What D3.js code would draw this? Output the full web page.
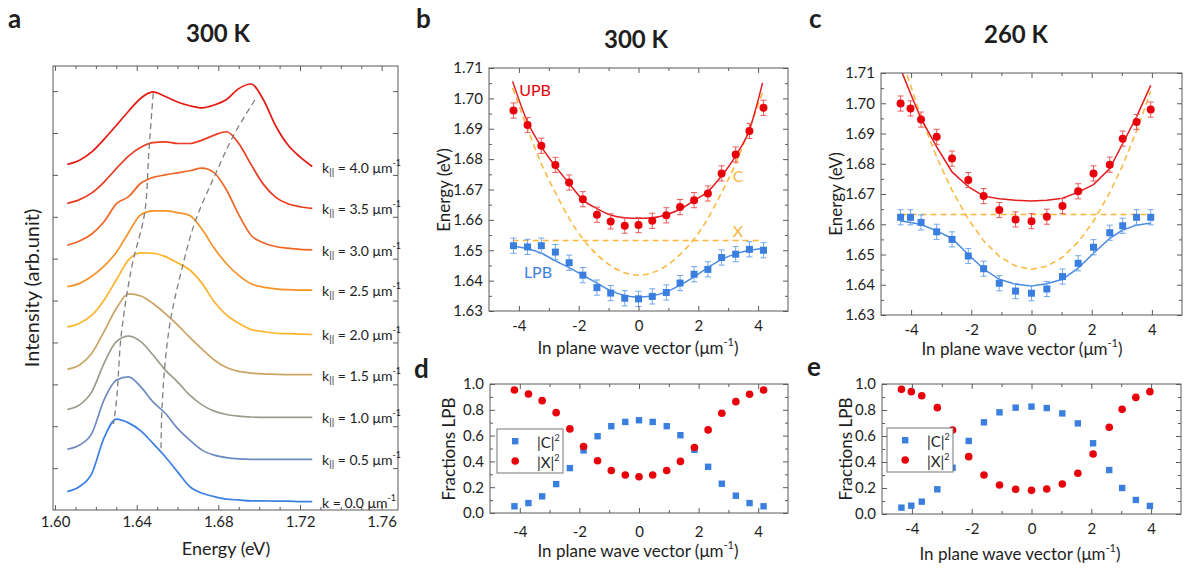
<!DOCTYPE html>
<html lang="en">
<head>
<meta charset="UTF-8">
<title>Polariton dispersion 300 K / 260 K</title>
<script src="https://cdn.jsdelivr.net/npm/d3@7"></script>
<style>
  body { margin: 0; background: #fff; }
  svg { display: block; }
  text { font-family: Lato, "Open Sans", sans-serif; fill: #1e1e1e; }
  .tick-label { font-size: 15px; }
  .axis-title { font-size: 17px; }
  .letter { font-size: 26px; font-weight: bold; }
  .title { font-size: 24px; font-weight: bold; }
  .klabel { font-size: 14px; }
</style>
</head>
<body>
<svg id="fig" width="1188" height="570"></svg>
<script>
// ---------- panel a : stacked PL spectra, 300 K ----------
const energyGrid = [1.606, 1.612, 1.618, 1.624, 1.630, 1.636, 1.642, 1.648, 1.654, 1.660, 1.666,
                    1.672, 1.678, 1.684, 1.690, 1.696, 1.702, 1.708, 1.714, 1.720, 1.726];
const spec40 = [8.25, 8.35, 8.55, 8.85, 9.18, 9.52, 9.83, 9.98, 9.87, 9.74, 9.65, 9.60, 9.67, 9.80, 10.06, 10.17, 9.80, 9.18, 8.72, 8.43, 8.20];
const spec35 = [7.32, 7.41, 7.57, 7.83, 8.15, 8.45, 8.66, 8.77, 8.79, 8.75, 8.75, 8.83, 8.95, 9.03, 8.75, 8.25, 7.78, 7.47, 7.31, 7.24, 7.20];
const spec30 = [6.32, 6.42, 6.59, 6.88, 7.31, 7.48, 7.80, 7.94, 8.00, 8.05, 8.10, 8.16, 8.05, 7.64, 7.05, 6.56, 6.38, 6.29, 6.25, 6.22, 6.21];
const spec25 = [5.33, 5.41, 5.58, 5.82, 6.15, 6.62, 7.05, 7.14, 7.14, 7.10, 7.03, 6.70, 6.25, 5.88, 5.60, 5.40, 5.32, 5.28, 5.26, 5.25, 5.25];
const spec20 = [4.37, 4.46, 4.65, 5.01, 5.49, 5.97, 6.14, 6.13, 6.05, 5.90, 5.73, 5.41, 4.97, 4.65, 4.46, 4.31, 4.26, 4.22, 4.21, 4.20, 4.19];
const spec15 = [3.36, 3.46, 3.74, 4.26, 4.81, 5.16, 5.11, 4.93, 4.69, 4.42, 4.12, 3.84, 3.58, 3.40, 3.31, 3.27, 3.25, 3.24, 3.23, 3.23, 3.23];
const spec10 = [2.40, 2.51, 2.82, 3.50, 4.02, 4.15, 4.02, 3.70, 3.34, 3.06, 2.74, 2.51, 2.36, 2.28, 2.24, 2.22, 2.21, 2.21, 2.21, 2.21, 2.21];
const spec05 = [1.45, 1.55, 1.83, 2.63, 3.10, 3.18, 2.94, 2.58, 2.31, 1.95, 1.67, 1.43, 1.31, 1.25, 1.22, 1.21, 1.21, 1.21, 1.21, 1.21, 1.21];
const spec00 = [0.44, 0.56, 0.87, 1.72, 2.17, 2.08, 1.89, 1.59, 1.27, 0.91, 0.56, 0.40, 0.32, 0.26, 0.24, 0.22, 0.22, 0.21, 0.21, 0.20, 0.20];
const kValuesA = ["4.0", "3.5", "3.0", "2.5", "2.0", "1.5", "1.0", "0.5", "0.0"];
// dashed guides through the two peak positions [energy, intensity]
const lowPeakPath = [[1.6481, 9.95], [1.6460, 8.59], [1.6441, 7.16], [1.6376, 5.81], [1.6327, 4.30], [1.6294, 2.32], [1.6286, 2.05]];
const highPeakPath = [[1.6979, 9.79], [1.6881, 9.00], [1.6784, 8.00], [1.6686, 6.88], [1.6620, 5.73], [1.6563, 4.46], [1.6539, 3.50], [1.6523, 2.31], [1.6519, 1.39]];

// ---------- panel b : dispersion 300 K ----------
const kB = [-4.18, -3.71, -3.25, -2.78, -2.32, -1.86, -1.39, -0.93, -0.46, 0, 0.46, 0.93, 1.39, 1.86, 2.32, 2.78, 3.25, 3.71, 4.18];
const upbB = [1.6960, 1.6912, 1.6844, 1.6781, 1.6723, 1.6668, 1.6617, 1.6595, 1.6581, 1.6583, 1.6597, 1.6615, 1.6642, 1.6665, 1.6687, 1.6753, 1.6815, 1.6893, 1.6969];
const lpbB = [1.6515, 1.6511, 1.6515, 1.6494, 1.6459, 1.6418, 1.6377, 1.6359, 1.6342, 1.6340, 1.6348, 1.6361, 1.6392, 1.6421, 1.6437, 1.6476, 1.6487, 1.6503, 1.6500];
const kFitB = [-4.21, -3.71, -3.25, -2.78, -2.32, -1.86, -1.39, -0.93, -0.46, 0, 0.46, 0.93, 1.39, 1.86, 2.32, 2.78, 3.25, 3.71, 4.15];
const upbFitB = [1.7056, 1.6922, 1.6841, 1.6776, 1.6720, 1.6666, 1.6637, 1.6616, 1.6607, 1.6605, 1.6607, 1.6617, 1.6635, 1.6664, 1.6693, 1.6745, 1.6811, 1.6897, 1.7051];
const lpbFitB = [1.6513, 1.6505, 1.6490, 1.6465, 1.6443, 1.6418, 1.6392, 1.6367, 1.6351, 1.6346, 1.6350, 1.6363, 1.6385, 1.6412, 1.6443, 1.6470, 1.6488, 1.6500, 1.6506];
const cavFitB = [1.7034, 1.6900, 1.6785, 1.6690, 1.6605, 1.6537, 1.6486, 1.6449, 1.6426, 1.6418, 1.6426, 1.6449, 1.6486, 1.6537, 1.6605, 1.6690, 1.6785, 1.6900, 1.7020];
const excitonB = 1.6532;
const errB = 0.0025;

// ---------- panel c : dispersion 260 K ----------
const kC = [-4.35, -4.02, -3.67, -3.15, -2.64, -2.10, -1.59, -1.07, -0.53, 0, 0.51, 1.03, 1.55, 2.06, 2.60, 3.03, 3.49, 3.96];
const upbC = [1.6999, 1.6983, 1.6946, 1.6889, 1.6817, 1.6746, 1.6693, 1.6647, 1.6616, 1.6610, 1.6625, 1.6660, 1.6709, 1.6768, 1.6797, 1.6883, 1.6938, 1.6979];
const lpbC = [1.6623, 1.6623, 1.6606, 1.6575, 1.6550, 1.6495, 1.6453, 1.6405, 1.6379, 1.6372, 1.6386, 1.6427, 1.6471, 1.6524, 1.6572, 1.6595, 1.6623, 1.6623];
const upbFitC = [1.7114, 1.7032, 1.6949, 1.6856, 1.6773, 1.6724, 1.6693, 1.6684, 1.6679, 1.6677, 1.6679, 1.6686, 1.6706, 1.6731, 1.6784, 1.6867, 1.6955, 1.7059];
const lpbFitC = [1.6611, 1.6606, 1.6599, 1.6578, 1.6553, 1.6500, 1.6452, 1.6418, 1.6402, 1.6396, 1.6403, 1.6418, 1.6455, 1.6504, 1.6553, 1.6581, 1.6597, 1.6604];
const cavFitC = [1.7155, 1.7060, 1.6955, 1.6822, 1.6712, 1.6617, 1.6545, 1.6494, 1.6462, 1.6451, 1.6461, 1.6491, 1.6541, 1.6610, 1.6705, 1.6795, 1.6908, 1.7040];
const excitonC = 1.6632;
const errC = 0.0025;

// ---------- panels d, e : Hopfield fractions of LPB ----------
const photonD = [0.052, 0.077, 0.129, 0.224, 0.348, 0.485, 0.595, 0.673, 0.706, 0.719, 0.706, 0.673, 0.603, 0.490, 0.358, 0.227, 0.134, 0.077, 0.052];
const excitonD = [0.954, 0.923, 0.871, 0.778, 0.652, 0.515, 0.405, 0.330, 0.294, 0.281, 0.294, 0.330, 0.400, 0.508, 0.644, 0.773, 0.863, 0.920, 0.954];
const photonE = [0.049, 0.064, 0.095, 0.190, 0.356, 0.562, 0.705, 0.782, 0.818, 0.826, 0.815, 0.774, 0.697, 0.544, 0.338, 0.200, 0.108, 0.062];
const excitonE = [0.959, 0.941, 0.910, 0.818, 0.646, 0.441, 0.300, 0.223, 0.190, 0.182, 0.192, 0.231, 0.313, 0.462, 0.667, 0.805, 0.897, 0.941];

const AX = "#5b5b5b";
const RED = "#e8000b", BLUE = "#3a7fdf", ORANGE = "#fdb53a";
const RED_ERR = "#ee5a5a", BLUE_ERR = "#70a6ec";
const specColors = ["#e41a12", "#ea3d1f", "#f06624", "#f69228", "#fbb42c", "#c9a464", "#9d9b8b", "#6d8bbe", "#3b7fe3"];

const fig = d3.select("#fig");

// box with inward ticks on all four sides
function frame(g, x, y, o) {
  const [xl, xr] = x.range(), [yb, yt] = y.range();
  const add = (axis, tr, vals, len, fmt, pad) => {
    const a = g.append("g").attr("transform", tr)
      .call(axis.tickValues(vals).tickSize(-len).tickPadding(pad || 0).tickFormat(fmt || (() => "")));
    a.select(".domain").remove();
    a.selectAll("line").attr("stroke", AX);
    a.selectAll("text").attr("class", "tick-label");
  };
  add(d3.axisBottom(x), `translate(0,${yb})`, o.xMajor, 5, o.xFmt, o.xPad);
  add(d3.axisBottom(x), `translate(0,${yb})`, o.xMinor, 3);
  add(d3.axisTop(x), `translate(0,${yt})`, o.xMajor, 5);
  add(d3.axisTop(x), `translate(0,${yt})`, o.xMinor, 3);
  add(d3.axisLeft(y), `translate(${xl},0)`, o.yMajor, 5, o.yFmt, 6);
  add(d3.axisLeft(y), `translate(${xl},0)`, o.yMinor, 3);
  add(d3.axisRight(y), `translate(${xr},0)`, o.yMajor, 5);
  add(d3.axisRight(y), `translate(${xr},0)`, o.yMinor, 3);
  g.append("rect").attr("x", xl).attr("y", yt).attr("width", xr - xl).attr("height", yb - yt)
    .attr("fill", "none").attr("stroke", AX).attr("stroke-width", 1);
}

function kTitle(g, cx, cy) {
  const t = g.append("text").attr("class", "axis-title").attr("x", cx).attr("y", cy)
    .attr("text-anchor", "middle").attr("dominant-baseline", "central");
  t.append("tspan").text("In plane wave vector (\u03bcm");
  t.append("tspan").attr("dy", -6).style("font-size", "11px").text("-1");
  t.append("tspan").attr("dy", 6).text(")");
}

function yTitle(g, cx, cy, label, size) {
  const t = g.append("text").attr("class", "axis-title").attr("transform", `translate(${cx},${cy}) rotate(-90)`)
    .attr("text-anchor", "middle").attr("dominant-baseline", "central").text(label);
  if (size) t.style("font-size", size + "px");
}

function letter(t, x, y) { fig.append("text").attr("class", "letter").attr("x", x).attr("y", y).text(t); }
function title(t, x, y) { fig.append("text").attr("class", "title").attr("x", x).attr("y", y).attr("text-anchor", "middle").text(t); }

const kFmt = d => String(d);
const kMajor = [-4, -2, 0, 2, 4], kMinor = [-3, -1, 1, 3];

// ================= panel a =================
{
  const g = fig.append("g");
  const x = d3.scaleLinear().domain([1.599, 1.768]).range([53, 398]);
  const y = d3.scaleLinear().domain([0, 10.6]).range([510, 66]);
  frame(g, x, y, {
    xMajor: [1.60, 1.64, 1.68, 1.72, 1.76],
    xMinor: [1.61, 1.62, 1.63, 1.65, 1.66, 1.67, 1.69, 1.70, 1.71, 1.73, 1.74, 1.75],
    xFmt: d3.format(".2f"), xPad: 6,
    yMajor: d3.range(1, 11), yMinor: [], yFmt: () => ""
  });
  const spectra = [spec40, spec35, spec30, spec25, spec20, spec15, spec10, spec05, spec00];
  const line = d3.line().x((d, i) => x(energyGrid[i])).y(d => y(d)).curve(d3.curveMonotoneX);
  g.selectAll(".spec").data(spectra).join("path").attr("class", "spec")
    .attr("d", line).attr("fill", "none")
    .attr("stroke", (d, i) => specColors[i]).attr("stroke-width", 1.7);

  const guide = d3.line().x(d => x(d[0])).y(d => y(d[1])).curve(d3.curveMonotoneY);
  [lowPeakPath, highPeakPath].forEach(p => {
    g.append("path").attr("d", guide(p)).attr("fill", "none")
      .attr("stroke", "#7f7f7f").attr("stroke-width", 1.3).attr("stroke-dasharray", "6,4");
  });

  spectra.forEach((s, i) => {
    const t = g.append("text").attr("class", "klabel").attr("x", 322).attr("y", y(s[s.length - 1]))
      .attr("dominant-baseline", "central");
    t.append("tspan").text("k");
    if (i < spectra.length - 1) t.append("tspan").attr("dy", 4).style("font-size", "10px").text("||");
    t.append("tspan").attr("dy", i < spectra.length - 1 ? -4 : 0).text(` = ${kValuesA[i]} \u03bcm`);
    t.append("tspan").attr("dy", -5).style("font-size", "9px").text("-1");
  });

  g.append("text").attr("class", "axis-title").attr("x", 226).attr("y", 548)
    .attr("text-anchor", "middle").attr("dominant-baseline", "central").style("font-size", "18px").text("Energy (eV)");
  yTitle(g, 31, 288, "Intensity (arb.unit)", 20);
  letter("a", 8, 28);
  title("300 K", 218, 42);
}

// dispersion panel (b, c)
function dispersion(o) {
  const g = fig.append("g");
  const x = d3.scaleLinear().domain([-5, 5]).range(o.xr);
  const y = d3.scaleLinear().domain([1.63, 1.71]).range(o.yr);
  const clipId = "clip" + o.id;
  g.append("clipPath").attr("id", clipId).append("rect")
    .attr("x", o.xr[0]).attr("y", o.yr[1]).attr("width", o.xr[1] - o.xr[0]).attr("height", o.yr[0] - o.yr[1]);
  const plot = g.append("g").attr("clip-path", `url(#${clipId})`);

  const line = d3.line().x(d => x(d[0])).y(d => y(d[1])).curve(o.curve);
  const pairs = (ks, vs) => ks.map((k, i) => [k, vs[i]]);
  // exciton level and bare cavity (dashed)
  plot.append("path").attr("d", line([[o.kFit[0], o.exc], [o.kFit[o.kFit.length - 1], o.exc]]))
    .attr("fill", "none").attr("stroke", ORANGE).attr("stroke-width", 1.5).attr("stroke-dasharray", "6,4");
  plot.append("path").attr("d", line(pairs(o.kFit, o.cav)))
    .attr("fill", "none").attr("stroke", ORANGE).attr("stroke-width", 1.5).attr("stroke-dasharray", "6,4");
  plot.append("path").attr("d", line(pairs(o.kFit, o.upFit)))
    .attr("fill", "none").attr("stroke", "#e41a1c").attr("stroke-width", 1.5);
  plot.append("path").attr("d", line(pairs(o.kFit, o.lpFit)))
    .attr("fill", "none").attr("stroke", "#4a8be2").attr("stroke-width", 1.5);

  const bars = (vals, col) => {
    const eb = plot.append("g").attr("stroke", col).attr("stroke-width", 1);
    o.k.forEach((k, i) => {
      const cx = x(k), y1 = y(vals[i] - o.err), y2 = y(vals[i] + o.err);
      eb.append("line").attr("x1", cx).attr("x2", cx).attr("y1", y1).attr("y2", y2);
      eb.append("line").attr("x1", cx - 3).attr("x2", cx + 3).attr("y1", y1).attr("y2", y1);
      eb.append("line").attr("x1", cx - 3).attr("x2", cx + 3).attr("y1", y2).attr("y2", y2);
    });
  };
  bars(o.up, RED_ERR);
  bars(o.lp, BLUE_ERR);
  plot.selectAll(".up").data(pairs(o.k, o.up)).join("circle").attr("class", "up")
    .attr("cx", d => x(d[0])).attr("cy", d => y(d[1])).attr("r", 4).attr("fill", RED);
  plot.selectAll(".lp").data(pairs(o.k, o.lp)).join("rect").attr("class", "lp")
    .attr("x", d => x(d[0]) - 3.5).attr("y", d => y(d[1]) - 3.5).attr("width", 7).attr("height", 7).attr("fill", BLUE);

  frame(g, x, y, {
    xMajor: kMajor, xMinor: kMinor, xFmt: kFmt, xPad: 9,
    yMajor: d3.range(1.63, 1.7101, 0.01), yMinor: d3.range(1.635, 1.71, 0.01), yFmt: d3.format(".2f")
  });
  return { g, x, y };
}

// ================= panel b =================
{
  const { g } = dispersion({
    id: "b", xr: [489, 788], yr: [311, 68], curve: d3.curveMonotoneX,
    k: kB, up: upbB, lp: lpbB, err: errB,
    kFit: kFitB, upFit: upbFitB, lpFit: lpbFitB, cav: cavFitB, exc: excitonB
  });
  const lab = (t, x, y, c) => g.append("text").attr("x", x).attr("y", y).attr("text-anchor", "middle")
    .attr("dominant-baseline", "central").style("font-size", "16px").style("fill", c).text(t);
  lab("UPB", 535, 89, RED);
  lab("LPB", 538, 271, BLUE);
  lab("C", 738, 175, ORANGE);
  lab("X", 738, 230, ORANGE);
  kTitle(g, 638, 347);
  yTitle(g, 443, 190, "Energy (eV)");
  letter("b", 416, 28);
  title("300 K", 636, 48);
}

// ================= panel c =================
{
  const { g } = dispersion({
    id: "c", xr: [881, 1182], yr: [315, 73], curve: d3.curveLinear,
    k: kC, up: upbC, lp: lpbC, err: errC,
    kFit: kC, upFit: upbFitC, lpFit: lpbFitC, cav: cavFitC, exc: excitonC
  });
  kTitle(g, 1022, 348);
  yTitle(g, 835, 194, "Energy (eV)");
  letter("c", 809, 28);
  title("260 K", 1016, 43);
}

// fraction panel (d, e)
function fractions(o) {
  const g = fig.append("g");
  const x = d3.scaleLinear().domain([-5, 5]).range(o.xr);
  const y = d3.scaleLinear().domain([0, 1]).range(o.yr);
  g.selectAll(".ph").data(o.k).join("rect").attr("class", "ph")
    .attr("x", d => x(d) - 3.2).attr("y", (d, i) => y(o.ph[i]) - 3.2).attr("width", 6.4).attr("height", 6.4).attr("fill", BLUE);
  g.selectAll(".ex").data(o.k).join("circle").attr("class", "ex")
    .attr("cx", d => x(d)).attr("cy", (d, i) => y(o.ex[i])).attr("r", 3.8).attr("fill", RED);
  frame(g, x, y, {
    xMajor: kMajor, xMinor: kMinor, xFmt: kFmt, xPad: o.xPad,
    yMajor: [0, 0.2, 0.4, 0.6, 0.8, 1.0], yMinor: [0.1, 0.3, 0.5, 0.7, 0.9], yFmt: d3.format(".1f")
  });
  // legend
  const [lx, ly] = o.legend;
  g.append("rect").attr("x", lx).attr("y", ly).attr("width", 66).attr("height", 44)
    .attr("fill", "#fff").attr("stroke", "#777");
  g.append("rect").attr("x", lx + 15).attr("y", ly + 9).attr("width", 6.4).attr("height", 6.4).attr("fill", BLUE);
  g.append("circle").attr("cx", lx + 18.2).attr("cy", ly + 32).attr("r", 3.8).attr("fill", RED);
  [["|C|", ly + 13], ["|X|", ly + 33]].forEach(([s, yy]) => {
    const t = g.append("text").attr("x", lx + 40).attr("y", yy).attr("dominant-baseline", "central").style("font-size", "15px");
    t.append("tspan").text(s);
    t.append("tspan").attr("dy", -5).style("font-size", "9px").text("2");
  });
  return g;
}

// ================= panel d =================
{
  const g = fractions({ xr: [490, 788], yr: [513, 384], k: kB, ph: photonD, ex: excitonD, legend: [497, 429], xPad: 13 });
  kTitle(g, 638, 550);
  yTitle(g, 448, 449, "Fractions LPB");
  letter("d", 414, 378);
}

// ================= panel e =================
{
  const g = fractions({ xr: [882, 1181], yr: [514, 384], k: kC, ph: photonE, ex: excitonE, legend: [887, 428], xPad: 9 });
  kTitle(g, 1020, 553);
  yTitle(g, 845, 449, "Fractions LPB");
  letter("e", 807, 376);
}
</script>
</body>
</html>
